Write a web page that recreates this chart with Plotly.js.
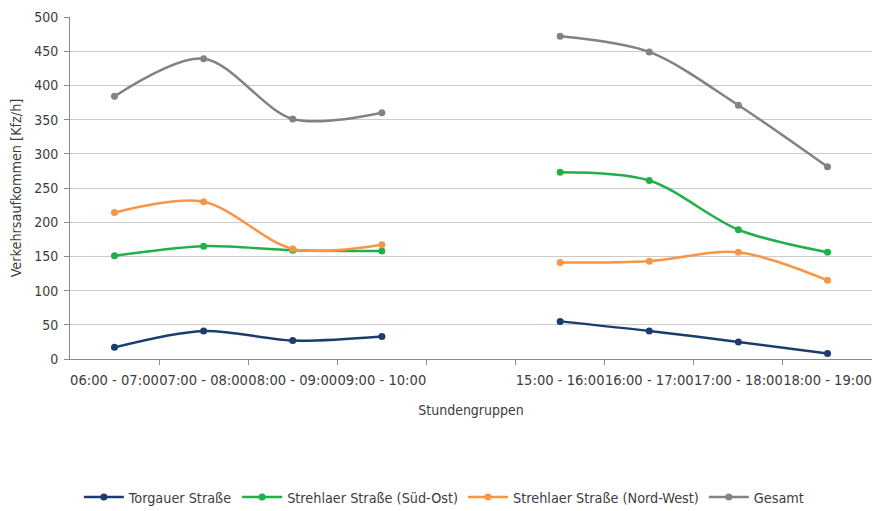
<!DOCTYPE html>
<html><head><meta charset="utf-8">
<script src="https://cdn.plot.ly/plotly-3.0.1.min.js"></script>
<style>html,body{margin:0;padding:0;background:#fff}#chart{width:873px;height:511px}</style>
</head><body><div id="chart"></div>
<script>
const categories = ["06:00 - 07:00","07:00 - 08:00","08:00 - 09:00","09:00 - 10:00"," ","15:00 - 16:00","16:00 - 17:00","17:00 - 18:00","18:00 - 19:00"];
const torgauer = [17, 41, 27, 33, null, 55, 41, 25, 8];
const strehlaerSO = [151, 165, 159, 158, null, 273, 261, 189, 156];
const strehlaerNW = [214, 230, 161, 167, null, 141, 143, 156, 115];
const gesamt = [384, 439, 351, 360, null, 472, 449, 371, 281];
const seriesNames = ["Torgauer Straße","Strehlaer Straße (Süd-Ost)","Strehlaer Straße (Nord-West)","Gesamt"];
const colors = ["#1b3d6d","#1fb04b","#f79646","#828282"];
const values = [torgauer, strehlaerSO, strehlaerNW, gesamt];
const FONT = "'DejaVu Sans Condensed','Liberation Sans Narrow',sans-serif";
const TXT = '#3d3d3d';

const traces = values.map((v,i)=>({
  type:'scatter', mode:'lines+markers', x:categories, y:v, name:seriesNames[i],
  line:{color:colors[i], width:2.5, shape:'spline', smoothing:0.9},
  marker:{color:colors[i], size:7},
  connectgaps:false
}));

const layout = {
  width:873, height:511,
  margin:{l:70, r:1, t:17, b:152},
  paper_bgcolor:'#fff', plot_bgcolor:'#fff',
  font:{family:FONT, size:14, color:TXT},
  showlegend:true,
  legend:{orientation:'h', xref:'container', yref:'container', x:0.509, xanchor:'center', y:0.027, yanchor:'middle',
          font:{family:FONT, size:14.3, color:TXT}, itemwidth:40, traceorder:'normal'},
  xaxis:{type:'category', tickangle:0, tickson:'boundaries', ticks:'outside', ticklen:5,
         tickcolor:'#8a8a8a', showline:true, linecolor:'#8a8a8a', linewidth:1,
         showgrid:false, fixedrange:true, ticklabelstandoff:7,
         tickfont:{family:FONT, size:14.6, color:TXT},
         title:{text:'Stundengruppen', standoff:18, font:{family:FONT, size:14, color:TXT}}},
  yaxis:{range:[0,500], dtick:50, ticks:'outside', ticklen:5, tickcolor:'#8a8a8a',
         showline:true, linecolor:'#8a8a8a', linewidth:1, ticklabelstandoff:3,
         gridcolor:'#cccccc', gridwidth:1, zeroline:false,
         tickfont:{family:FONT, size:14, color:TXT},
         title:{text:'Verkehrsaufkommen [Kfz/h]', standoff:9, font:{family:FONT, size:14.3, color:TXT}}}
};
Plotly.newPlot('chart', traces, layout, {displayModeBar:false, staticPlot:true});
</script></body></html>
